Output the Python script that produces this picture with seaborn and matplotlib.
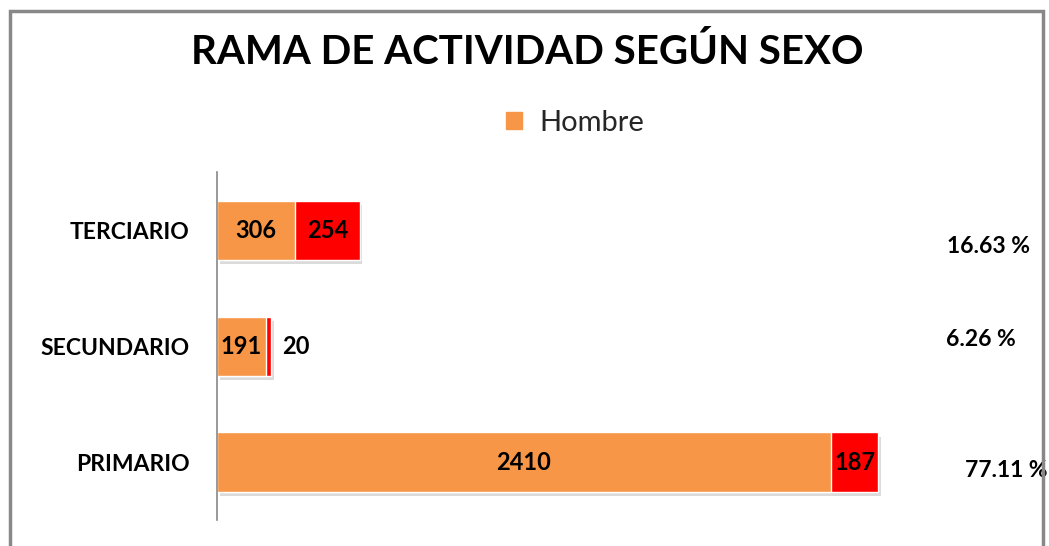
import matplotlib
matplotlib.use("Agg")
import matplotlib.pyplot as plt
import matplotlib.patches as mpatches
import matplotlib.patheffects as pe
import pandas as pd
import seaborn as sns

# Data
categorias = ['TERCIARIO', 'SECUNDARIO', 'PRIMARIO']
hombre = [306, 191, 2410]
mujer = [254, 20, 187]
porcentajes = ['16.63 %', '6.26 %', '77.11 %']

tabla = pd.DataFrame({'rama': categorias, 'hombre': hombre, 'mujer': mujer})
tabla['total'] = tabla['hombre'] + tabla['mujer']

naranja = '#F79646'
rojo = '#FF0000'

sns.set_theme(style='white')
plt.rcParams['font.family'] = ['Lato', 'DejaVu Sans']

fig = plt.figure(figsize=(10.49, 5.46), dpi=100)
ax = fig.add_axes([0.2069, 0.0476, 0.785, 0.637])

sombra = [pe.SimplePatchShadow(offset=(2, -3), shadow_rgbFace='#999999', alpha=0.35), pe.Normal()]

# stacked: total in red, hombre in orange on top
sns.barplot(data=tabla, y='rama', x='total', color=rojo, saturation=1, width=0.51, ax=ax)
for b in ax.patches:
    b.set_path_effects(sombra)
sns.barplot(data=tabla, y='rama', x='hombre', color=naranja, saturation=1, width=0.51, ax=ax)

ax.set_xlim(0, 3234)
ax.set_ylim(2.5, -0.5)
ax.set_xlabel('')
ax.set_ylabel('')
ax.set_xticks([])
ax.tick_params(axis='y', length=0, pad=20)
for lab in ax.get_yticklabels():
    lab.set_fontsize(16.5)
    lab.set_fontweight('bold')
    lab.set_color('black')
for s in ['top', 'right', 'bottom']:
    ax.spines[s].set_visible(False)
ax.spines['left'].set_color('#888888')
ax.spines['left'].set_linewidth(1.2)

# value labels
for i, (h, m) in enumerate(zip(hombre, mujer)):
    ax.text(h / 2, i, str(h), ha='center', va='center', fontsize=17, fontweight='bold', color='black')
    if m < 60:
        ax.text(h + m + 45, i, str(m), ha='left', va='center', fontsize=17, fontweight='bold', color='black')
    else:
        ax.text(h + m / 2, i, str(m), ha='center', va='center', fontsize=17, fontweight='bold', color='black')

# percentages on the right
desp_x = [2868, 2864, 2939]
desp_y = [0.14, -0.06, 0.07]
for i, p in enumerate(porcentajes):
    ax.text(desp_x[i], i + desp_y[i], p, ha='left', va='center', fontsize=16.5, fontweight='bold',
            color='black', clip_on=False)

# title and legend
fig.text(0.503, 0.905, 'RAMA DE ACTIVIDAD SEGÚN SEXO', ha='center', va='center',
         fontsize=29, fontweight='bold', color='black')
leg = fig.legend(handles=[mpatches.Patch(color=naranja, label='Hombre')],
                 loc='center', bbox_to_anchor=(0.548, 0.775), frameon=False,
                 fontsize=21, handlelength=0.55, handleheight=0.55, handletextpad=0.6)

# outer frame
fig.patches.append(mpatches.Rectangle((0.0095, -0.05), 0.985, 1.03, transform=fig.transFigure,
                                      fill=False, edgecolor='#888888', linewidth=2.5))

fig.savefig('out.png', dpi=100)
